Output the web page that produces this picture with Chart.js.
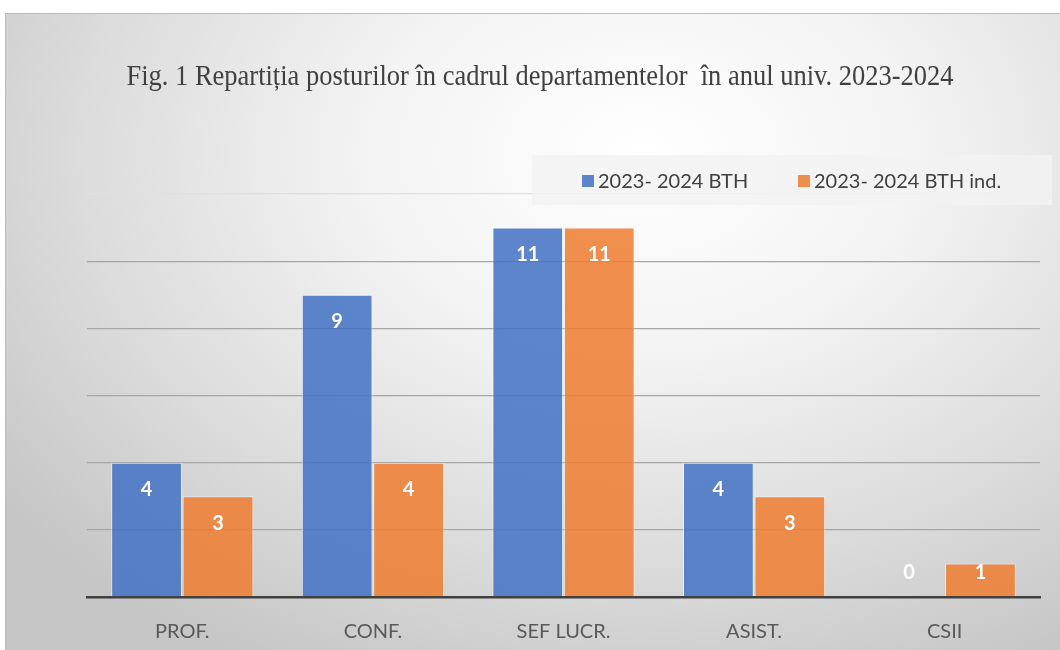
<!DOCTYPE html>
<html>
<head>
<meta charset="utf-8">
<script src="https://cdn.jsdelivr.net/npm/chart.js@4"></script>
<style>
  html, body { margin: 0; padding: 0; background: #fff; }
  #box {
    position: absolute; left: 5px; top: 13px; width: 1060px; height: 640px;
    border-top: 1.5px solid #bdbdbd; border-left: 1.5px solid #bdbdbd;
    background: radial-gradient(ellipse 75% 90% at 60% 22%, #ffffff 0%, #f3f3f3 35%, #dcdcdc 70%, #c6c6c6 100%);
  }
  #wrap { position: absolute; left: 0; top: 0; width: 1060px; height: 650px; }
</style>
</head>
<body>
<div id="box"></div>
<div id="wrap"><canvas id="c" width="1060" height="650"></canvas></div>
<script>
const titleText = 'Fig. 1 Repartiția posturilor în cadrul departamentelor  în anul univ. 2023-2024';
const categories = ['PROF.', 'CONF.', 'SEF LUCR.', 'ASIST.', 'CSII'];
const seriesNames = ['2023- 2024 BTH', '2023- 2024 BTH ind.'];
const bthValues = [4, 9, 11, 4, 0];
const bthIndValues = [3, 4, 11, 3, 1];

// title, legend band and data labels drawn here
const decor = {
  id: 'decor',
  beforeDatasetsDraw(chart) {
    const ctx = chart.ctx;
    ctx.save();
    // legend band
    ctx.fillStyle = 'rgba(242,242,242,0.85)';
    ctx.fillRect(532, 155, 520, 50);
    ctx.restore();
  },
  afterDatasetsDraw(chart) {
    const ctx = chart.ctx;
    ctx.save();
    ctx.font = 'bold 20px Lato';
    ctx.fillStyle = '#ffffff';
    ctx.textAlign = 'center';
    ctx.textBaseline = 'middle';
    chart.data.datasets.forEach((ds, i) => {
      chart.getDatasetMeta(i).data.forEach((bar, j) => {
        const h = bar.base - bar.y;
        const y = h > 50 ? bar.y + 27 : bar.base - 24;
        ctx.fillText(String(ds.data[j]), bar.x, y);
      });
    });
    ctx.restore();
  },
  afterDraw(chart) {
    const ctx = chart.ctx;
    ctx.save();
    // title
    ctx.font = '29px "Liberation Serif"';
    ctx.fillStyle = '#404040';
    ctx.textBaseline = 'alphabetic';
    const w = ctx.measureText(titleText).width;
    const sx = 827 / w;
    ctx.translate(540, 85);
    ctx.scale(sx, 1);
    ctx.textAlign = 'center';
    ctx.fillText(titleText, 0, 0);
    ctx.restore();

    // legend
    ctx.save();
    ctx.font = '20px Lato';
    ctx.textBaseline = 'middle';
    ctx.textAlign = 'left';
    const starts = [582, 798];
    chart.data.datasets.forEach((ds, i) => {
      const x = starts[i];
      ctx.fillStyle = ds.backgroundColor;
      ctx.fillRect(x, 175, 12, 12);
      ctx.fillStyle = '#404040';
      ctx.fillText(ds.label, x + 16, 182);
    });
    ctx.restore();
  }
};

new Chart(document.getElementById('c'), {
  type: 'bar',
  data: {
    labels: categories,
    datasets: [
      { label: seriesNames[0], data: bthValues, backgroundColor: 'rgba(68,114,196,0.86)',
        borderColor: 'rgba(255,255,255,0.55)', borderWidth: 1 },
      { label: seriesNames[1], data: bthIndValues, backgroundColor: 'rgba(237,125,49,0.86)',
        borderColor: 'rgba(255,255,255,0.55)', borderWidth: 1 }
    ]
  },
  options: {
    responsive: false,
    animation: false,
    devicePixelRatio: 1,
    layout: { padding: { left: 87, right: 20, top: 194, bottom: 8 } },
    plugins: { legend: { display: false }, title: { display: false }, tooltip: { enabled: false } },
    datasets: { bar: { categoryPercentage: 0.75, barPercentage: 0.99 } },
    scales: {
      x: {
        grid: { display: false },
        border: { display: true, color: '#404040', width: 2.5 },
        ticks: { color: '#595959', font: { family: 'Lato', size: 20 }, padding: 15 },
        afterFit(scale) { scale.height = 45; }
      },
      y: {
        min: 0, max: 12,
        ticks: { display: false, stepSize: 2 },
        border: { display: false },
        grid: {
          color: ctx => ctx.tick && ctx.tick.value === 12 ? '#e0e0e0' : '#a6a6a6',
          lineWidth: 1.3,
          drawTicks: false
        }
      }
    }
  },
  plugins: [decor]
});
</script>
</body>
</html>
